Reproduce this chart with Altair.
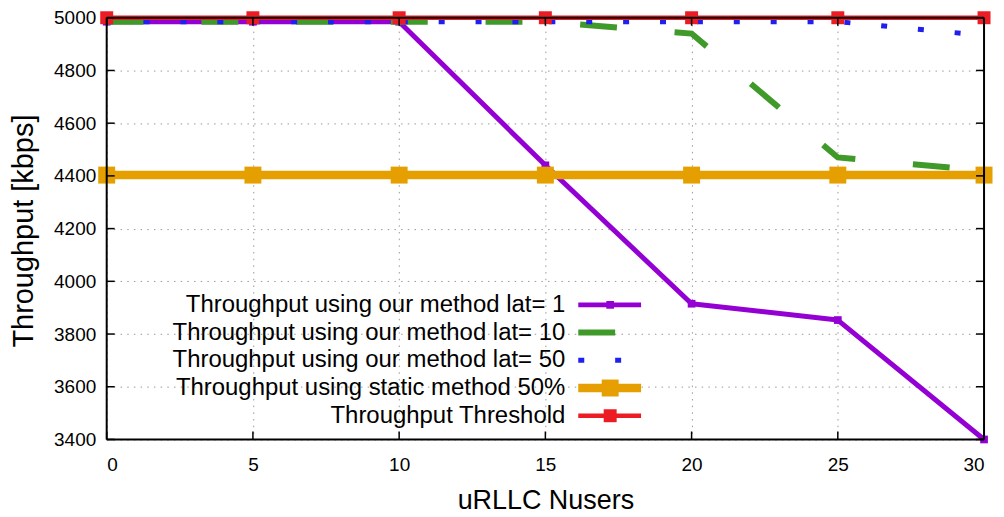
import altair as alt
import pandas as pd

# ---- data ----
nusers = [0, 5, 10, 15, 20, 25, 30]
lat1 = [4985, 4985, 4985, 4440, 3915, 3853, 3400]
lat10 = [4985, 4985, 4985, 4985, 4940, 4470, 4420]
lat50 = [4985, 4985, 4985, 4985, 4985, 4985, 4933]
static50 = [4403, 4403, 4403, 4403, 4403, 4403, 4403]
threshold = [5000, 5000, 5000, 5000, 5000, 5000, 5000]

series_labels = [
    "Throughput using our method lat= 1",
    "Throughput using our method lat= 10",
    "Throughput using our method lat= 50",
    "Throughput using static method 50%",
    "Throughput Threshold",
]
series_colors = ["#9400d3", "#409a2a", "#1f1ff0", "#e69f00", "#ec1c24"]

x_ticks = [0, 5, 10, 15, 20, 25, 30]
y_ticks = [3400, 3600, 3800, 4000, 4200, 4400, 4600, 4800, 5000]

x_title = "uRLLC Nusers"
y_title = "Throughput [kbps]"

W, H = 880, 423
FONT = "Liberation Sans"


def frame(vals):
    return pd.DataFrame({"n": nusers, "v": vals})


xs = alt.Scale(domain=[0, 30], nice=False, zero=False)
ys = alt.Scale(domain=[3400, 5000], nice=False, zero=False)

x_axis = alt.Axis(values=x_ticks, title=x_title, grid=True, ticks=False, domain=False,
                  format="d", labelPadding=16, titleY=69, titleBaseline="alphabetic",
                  titleX=W / 2, titleAlign="center")
y_axis = alt.Axis(values=y_ticks, title=y_title, grid=True, ticks=False, domain=False,
                  format="d", labelPadding=11, titleX=-74, titleY=H / 2 + 2, titleAngle=-90,
                  titleBaseline="alphabetic", titleAlign="center")

X = alt.X("n:Q", scale=xs, axis=x_axis)
Y = alt.Y("v:Q", scale=ys, axis=y_axis)


def enc(chart):
    return chart.encode(x=X, y=Y)


layers = []

# lat = 1 (purple, solid with small squares)
d = frame(lat1)
layers.append(enc(alt.Chart(d).mark_line(color=series_colors[0], strokeWidth=5, strokeJoin="round")))
layers.append(enc(alt.Chart(d).mark_point(shape="square", filled=True, size=60, opacity=1,
                                         color=series_colors[0])))
# lat = 10 (green, long dashes)
d = frame(lat10)
layers.append(enc(alt.Chart(d).mark_line(color=series_colors[1], strokeWidth=6,
                                        strokeDash=[37, 58], strokeCap="butt")))
# lat = 50 (blue dots)
d = frame(lat50)
layers.append(enc(alt.Chart(d).mark_line(color=series_colors[2], strokeWidth=5,
                                        strokeDash=[6, 31], strokeCap="butt")))
# static (orange, thick with big squares)
d = frame(static50)
layers.append(enc(alt.Chart(d).mark_line(color=series_colors[3], strokeWidth=8.5)))
layers.append(enc(alt.Chart(d).mark_point(shape="square", filled=True, size=289, opacity=1,
                                         color=series_colors[3])))
# threshold (red with squares)
d = frame(threshold)
layers.append(enc(alt.Chart(d).mark_line(color=series_colors[4], strokeWidth=4.5)))
layers.append(enc(alt.Chart(d).mark_point(shape="square", filled=True, size=169, opacity=1,
                                         color=series_colors[4])))

# inward ticks on all four sides
xt = pd.DataFrame({"n": x_ticks})
yt = pd.DataFrame({"v": y_ticks})
tick_style = dict(color="black", strokeWidth=1.5)
layers.append(alt.Chart(xt).mark_rule(**tick_style).encode(
    x=X, y=alt.value(H), y2=alt.value(H - 8)))
layers.append(alt.Chart(xt).mark_rule(**tick_style).encode(
    x=X, y=alt.value(0), y2=alt.value(8)))
layers.append(alt.Chart(yt).mark_rule(**tick_style).encode(
    y=Y, x=alt.value(0), x2=alt.value(8)))
layers.append(alt.Chart(yt).mark_rule(**tick_style).encode(
    y=Y, x=alt.value(W), x2=alt.value(W - 8)))

# frame drawn in front
one = pd.DataFrame({"k": [0]})
fs = dict(color="black", strokeWidth=2)
layers.append(alt.Chart(one).mark_rule(**fs).encode(x=alt.value(0), x2=alt.value(W), y=alt.value(0)))
layers.append(alt.Chart(one).mark_rule(**fs).encode(x=alt.value(0), x2=alt.value(W), y=alt.value(H)))
layers.append(alt.Chart(one).mark_rule(**fs).encode(y=alt.value(0), y2=alt.value(H), x=alt.value(0)))
layers.append(alt.Chart(one).mark_rule(**fs).encode(y=alt.value(0), y2=alt.value(H), x=alt.value(W)))

# legend (gnuplot style: label on the left, sample on the right)
row0, row_gap = 288, 27.8
text_x, s_x1, s_x2, s_mid = 460, 473, 536, 505
line_styles = [
    dict(strokeWidth=5),
    dict(strokeWidth=6, strokeDash=[37, 58], strokeCap="butt"),
    dict(strokeWidth=5, strokeDash=[6, 31], strokeCap="butt"),
    dict(strokeWidth=8.5),
    dict(strokeWidth=4.5),
]
marker_sizes = [60, None, None, 289, 169]
for i, lab in enumerate(series_labels):
    yy = row0 + row_gap * i
    ld = pd.DataFrame({"label": [lab]})
    layers.append(alt.Chart(ld).mark_text(align="right", baseline="middle", font=FONT,
                                          fontSize=24, color="black").encode(
        text="label:N", x=alt.value(text_x), y=alt.value(yy)))
    layers.append(alt.Chart(ld).mark_rule(color=series_colors[i], **line_styles[i]).encode(
        x=alt.value(s_x1), x2=alt.value(s_x2), y=alt.value(yy)))
    if marker_sizes[i]:
        layers.append(alt.Chart(ld).mark_point(shape="square", filled=True, opacity=1,
                                               size=marker_sizes[i], color=series_colors[i]).encode(
            x=alt.value(s_mid), y=alt.value(yy)))

chart = alt.layer(*layers).properties(
    width=W, height=H,
    autosize=alt.AutoSizeParams(type="none"),
    padding={"left": 99, "top": 9, "right": 12, "bottom": 76},
).configure_view(stroke=None).configure_axis(
    labelFont=FONT, labelFontSize=19, labelColor="black",
    titleFont=FONT, titleFontWeight="normal", titleColor="black",
    gridColor="#9a9a9a", gridDash=[1.5, 5.2], gridWidth=1,
).configure_axisX(titleFontSize=27).configure_axisY(titleFontSize=29)

chart.save("out.html", embed_options={"renderer": "svg", "actions": False})
